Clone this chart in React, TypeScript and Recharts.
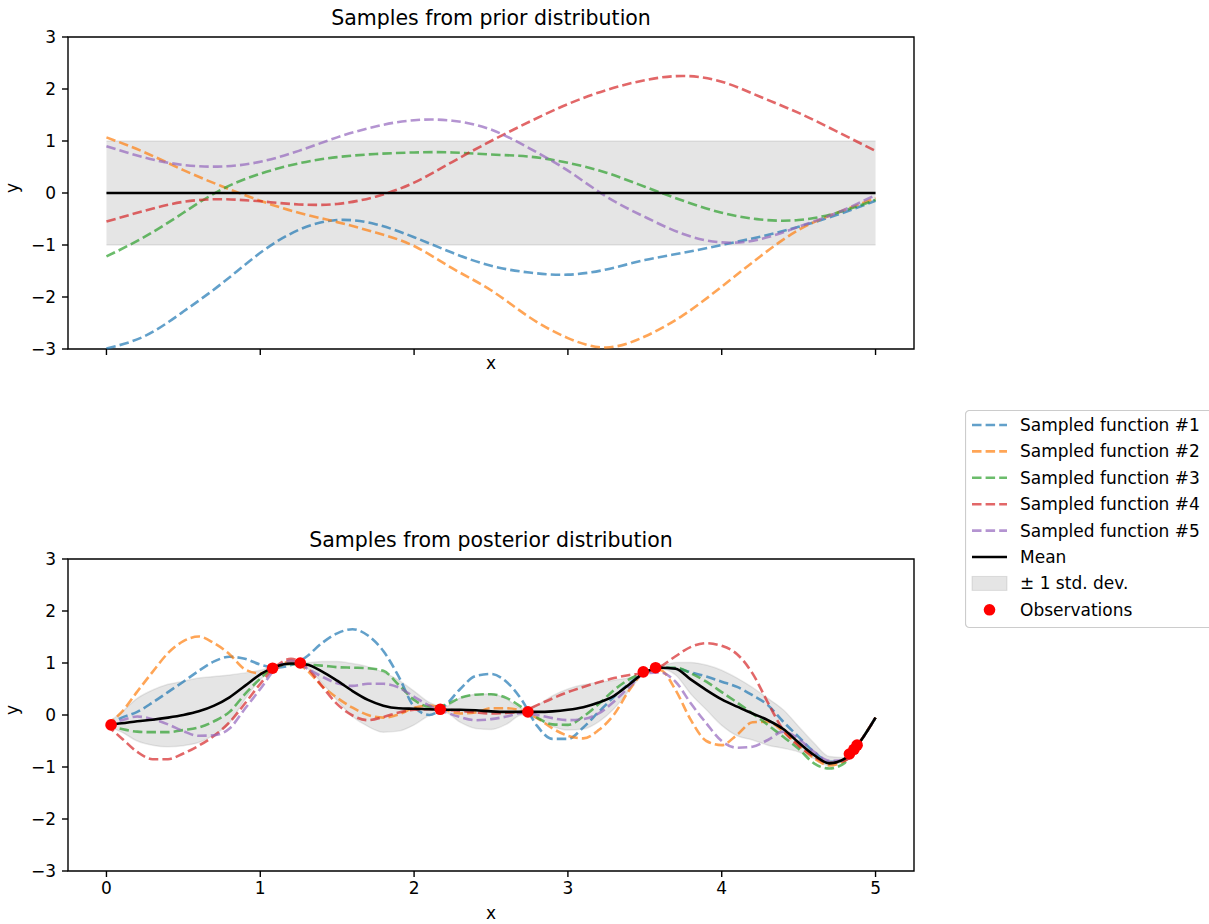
import React from 'react';
import { ComposedChart, Line, Area, Scatter, XAxis, YAxis, ReferenceArea, Label, Legend } from 'recharts';

const FONT = '"DejaVu Sans", Verdana, sans-serif';

const SAMPLE_NAMES = ['Sampled function #1', 'Sampled function #2', 'Sampled function #3', 'Sampled function #4', 'Sampled function #5'];
const SAMPLE_COLORS = ['#1f77b4', '#ff7f0e', '#2ca02c', '#d62728', '#9467bd'];
const SAMPLE_KEYS = ['s1', 's2', 's3', 's4', 's5'];
const X_TICKS = [0, 1, 2, 3, 4, 5];
const Y_TICKS = [-3, -2, -1, 0, 1, 2, 3];

// prior (top panel)
const priorX = [0, 0.25, 0.5, 0.75, 1, 1.25, 1.5, 1.75, 2, 2.25, 2.5, 2.75, 3, 3.25, 3.5, 3.75, 4, 4.25, 4.5, 4.75, 5];
const priorMean = [0, 0, 0, 0, 0, 0, 0, 0, 0, 0, 0, 0, 0, 0, 0, 0, 0, 0, 0, 0, 0];
const priorLower = [-1, -1, -1, -1, -1, -1, -1, -1, -1, -1, -1, -1, -1, -1, -1, -1, -1, -1, -1, -1, -1];
const priorUpper = [1, 1, 1, 1, 1, 1, 1, 1, 1, 1, 1, 1, 1, 1, 1, 1, 1, 1, 1, 1, 1];
const priorS1 = [-2.99, -2.75, -2.28, -1.74, -1.15, -0.71, -0.52, -0.6, -0.85, -1.15, -1.4, -1.53, -1.57, -1.47, -1.29, -1.15, -1.0, -0.84, -0.65, -0.42, -0.15];
const priorS2 = [1.07, 0.78, 0.44, 0.13, -0.15, -0.38, -0.56, -0.76, -1.02, -1.45, -1.87, -2.39, -2.79, -2.97, -2.76, -2.35, -1.8, -1.22, -0.71, -0.38, -0.1];
const priorS3 = [-1.22, -0.84, -0.38, 0.07, 0.37, 0.57, 0.69, 0.75, 0.78, 0.78, 0.74, 0.7, 0.58, 0.39, 0.12, -0.15, -0.38, -0.51, -0.52, -0.38, -0.13];
const priorS4 = [-0.55, -0.34, -0.17, -0.12, -0.16, -0.22, -0.21, -0.07, 0.2, 0.6, 1.0, 1.37, 1.71, 1.98, 2.17, 2.25, 2.14, 1.85, 1.54, 1.18, 0.81];
const priorS5 = [0.9, 0.68, 0.54, 0.51, 0.6, 0.81, 1.07, 1.28, 1.4, 1.39, 1.22, 0.86, 0.43, -0.07, -0.46, -0.79, -0.95, -0.89, -0.65, -0.38, -0.04];

// posterior (bottom panel)
const postX = [0, 0.1, 0.2, 0.3, 0.4, 0.5, 0.6, 0.7, 0.8, 0.9, 1, 1.1, 1.2, 1.3, 1.4, 1.5, 1.6, 1.7, 1.8, 1.9, 2, 2.1, 2.2, 2.3, 2.4, 2.5, 2.6, 2.7, 2.8, 2.9, 3, 3.1, 3.2, 3.3, 3.4, 3.5, 3.6, 3.7, 3.8, 3.9, 4, 4.1, 4.2, 4.3, 4.4, 4.5, 4.6, 4.7, 4.8, 4.9, 5];
const postMean = [-0.19, -0.16, -0.12, -0.09, -0.05, 0.0, 0.07, 0.18, 0.34, 0.56, 0.78, 0.93, 0.99, 0.97, 0.84, 0.66, 0.46, 0.29, 0.18, 0.13, 0.12, 0.11, 0.1, 0.1, 0.09, 0.07, 0.06, 0.06, 0.06, 0.07, 0.1, 0.15, 0.24, 0.37, 0.59, 0.82, 0.91, 0.89, 0.68, 0.48, 0.3, 0.16, 0.03, -0.1, -0.27, -0.53, -0.77, -0.93, -0.84, -0.51, -0.05];
const postUpper = [-0.17, 0.06, 0.32, 0.48, 0.59, 0.65, 0.71, 0.74, 0.77, 0.81, 0.86, 0.95, 1.03, 1.01, 1.03, 1.03, 0.99, 0.93, 0.82, 0.67, 0.46, 0.24, 0.16, 0.33, 0.4, 0.41, 0.31, 0.13, 0.19, 0.37, 0.5, 0.58, 0.63, 0.67, 0.72, 0.83, 0.93, 1.01, 1.01, 0.96, 0.86, 0.71, 0.53, 0.32, 0.1, -0.22, -0.54, -0.8, -0.82, -0.5, -0.05];
const postLower = [-0.21, -0.33, -0.5, -0.58, -0.61, -0.59, -0.53, -0.38, -0.15, 0.3, 0.68, 0.9, 0.96, 0.9, 0.62, 0.28, -0.03, -0.22, -0.33, -0.31, -0.19, -0.01, 0.05, -0.14, -0.26, -0.28, -0.18, 0.0, -0.08, -0.22, -0.29, -0.27, -0.13, 0.12, 0.48, 0.8, 0.89, 0.77, 0.4, 0.1, -0.2, -0.4, -0.48, -0.58, -0.64, -0.71, -0.84, -0.98, -0.86, -0.52, -0.05];
const postS1 = [-0.19, -0.05, 0.06, 0.24, 0.44, 0.64, 0.85, 1.03, 1.12, 1.08, 0.97, 0.91, 0.96, 1.12, 1.38, 1.57, 1.65, 1.53, 1.23, 0.74, 0.16, 0.0, 0.18, 0.5, 0.75, 0.79, 0.64, 0.29, -0.21, -0.46, -0.46, -0.24, 0.06, 0.35, 0.61, 0.82, 0.91, 0.9, 0.82, 0.74, 0.64, 0.54, 0.38, 0.19, -0.13, -0.42, -0.71, -0.9, -0.86, -0.51, -0.05];
const postS2 = [-0.19, 0.06, 0.45, 0.83, 1.19, 1.42, 1.51, 1.38, 1.17, 0.88, 0.8, 0.9, 1.04, 0.87, 0.56, 0.33, 0.14, 0.0, -0.05, 0.01, 0.14, 0.18, 0.1, 0.03, 0.05, 0.13, 0.13, 0.08, -0.06, -0.26, -0.4, -0.45, -0.29, 0.01, 0.48, 0.82, 0.86, 0.48, -0.1, -0.5, -0.58, -0.38, -0.14, -0.13, -0.32, -0.58, -0.83, -0.97, -0.88, -0.51, -0.05];
const postS3 = [-0.19, -0.27, -0.32, -0.33, -0.33, -0.29, -0.24, -0.12, 0.06, 0.4, 0.7, 0.93, 0.98, 0.97, 0.95, 0.92, 0.91, 0.9, 0.85, 0.58, 0.29, 0.16, 0.19, 0.33, 0.39, 0.4, 0.33, 0.15, -0.05, -0.18, -0.19, -0.03, 0.21, 0.48, 0.69, 0.82, 0.91, 0.91, 0.8, 0.64, 0.44, 0.24, 0.03, -0.19, -0.42, -0.65, -0.93, -1.03, -0.92, -0.51, -0.05];
const postS4 = [-0.19, -0.45, -0.71, -0.85, -0.85, -0.74, -0.59, -0.4, -0.14, 0.22, 0.6, 0.93, 1.08, 0.93, 0.56, 0.21, -0.01, -0.1, -0.04, 0.05, 0.1, 0.11, 0.1, 0.08, 0.05, 0.03, 0.04, 0.06, 0.19, 0.32, 0.44, 0.54, 0.63, 0.71, 0.77, 0.81, 0.93, 1.13, 1.31, 1.38, 1.33, 1.17, 0.8, 0.24, -0.29, -0.59, -0.8, -0.92, -0.88, -0.51, -0.05];
const postS5 = [-0.19, -0.1, -0.03, -0.08, -0.18, -0.31, -0.4, -0.39, -0.26, 0.12, 0.5, 0.89, 1.04, 0.9, 0.74, 0.61, 0.56, 0.6, 0.6, 0.53, 0.35, 0.18, 0.06, -0.04, -0.1, -0.08, -0.03, 0.04, 0.0, -0.06, -0.1, -0.08, 0.03, 0.26, 0.54, 0.8, 0.82, 0.64, 0.22, -0.16, -0.5, -0.63, -0.61, -0.48, -0.32, -0.46, -0.71, -0.88, -0.87, -0.51, -0.05];

// observations
const obsX = [0.03, 1.08, 1.26, 2.17, 2.74, 3.49, 3.57, 4.83, 4.86, 4.88];
const obsY = [-0.19, 0.9, 1.0, 0.11, 0.06, 0.83, 0.91, -0.75, -0.66, -0.58];

const priorRows = priorX.map((x, i) => ({
  x,
  mean: priorMean[i],
  band: [priorLower[i], priorUpper[i]],
  s1: priorS1[i], s2: priorS2[i], s3: priorS3[i], s4: priorS4[i], s5: priorS5[i],
}));

const postRows = postX.map((x, i) => ({
  x,
  mean: postMean[i],
  band: [postLower[i], postUpper[i]],
  s1: postS1[i], s2: postS2[i], s3: postS3[i], s4: postS4[i], s5: postS5[i],
}));

const obsRows = obsX.map((x, i) => ({ x, y: obsY[i] }));

const LW = 2.6;
const DASH = '9.5 4.1';
const tickStyle = { fill: '#000', fontSize: 17, fontFamily: FONT };
const minusFmt = (v: number) => (v < 0 ? '\u2212' + Math.abs(v) : String(v));

const ObsDot = (props: any) => {
  const { cx, cy } = props;
  if (cx == null || cy == null) return null;
  return <circle cx={cx} cy={cy} r={5.8} fill="#ff0000" />;
};

const LegendBox = () => {
  const ROW = 26.4;
  const rowY = (i: number) => 15 + i * ROW;
  const textProps = { x: 55, fontSize: 17, fontFamily: FONT, fill: '#000' };
  return (
    <svg width={250} height={222} style={{ display: 'block' }}>
      <rect x={0.5} y={0.5} width={262} height={217} rx={4} fill="#fff" fillOpacity={0.8} stroke="#cccccc" strokeWidth={1.2} />
      {SAMPLE_NAMES.map((name, i) => (
        <g key={name}>
          <line x1={7} x2={42} y1={rowY(i)} y2={rowY(i)} stroke={SAMPLE_COLORS[i]} strokeOpacity={0.7} strokeWidth={LW} strokeDasharray={DASH} />
          <text {...textProps} y={rowY(i) + 6}>{name}</text>
        </g>
      ))}
      <line x1={7} x2={42} y1={rowY(5)} y2={rowY(5)} stroke="#000" strokeWidth={LW} />
      <text {...textProps} y={rowY(5) + 6}>Mean</text>
      <rect x={7} y={rowY(6) - 7} width={35} height={14} fill="#000" fillOpacity={0.1} stroke="#000" strokeOpacity={0.1} />
      <text {...textProps} y={rowY(6) + 6}>± 1 std. dev.</text>
      <circle cx={24.5} cy={rowY(7)} r={5.8} fill="#ff0000" />
      <text {...textProps} y={rowY(7) + 6}>Observations</text>
    </svg>
  );
};

const panelSeries = (withObs: boolean, curve: 'monotone' | 'natural') => [
  ...SAMPLE_KEYS.map((k, i) => (
    <Line
      key={k}
      type={curve}
      dataKey={k}
      stroke={SAMPLE_COLORS[i]}
      strokeOpacity={0.7}
      strokeWidth={LW}
      strokeDasharray={DASH}
      dot={false}
      activeDot={false}
      isAnimationActive={false}
    />
  )),
  <Line key="mean" type={curve} dataKey="mean" stroke="#000" strokeWidth={LW} dot={false} activeDot={false} isAnimationActive={false} />,
  <Area
    key="band"
    type={curve}
    dataKey="band"
    fill="#000"
    fillOpacity={0.1}
    stroke="#000"
    strokeOpacity={0.08}
    strokeWidth={1.5}
    dot={false}
    activeDot={false}
    isAnimationActive={false}
  />,
  ...(withObs
    ? [<Scatter key="obs" data={obsRows} dataKey="y" fill="#ff0000" shape={<ObsDot />} isAnimationActive={false} />]
    : []),
];

const axes = (xLabelOffset: number, xHeight: number, showXLabels: boolean) => [
  <XAxis
    key="x"
    dataKey="x"
    type="number"
    domain={[-0.25, 5.25]}
    ticks={X_TICKS}
    axisLine={false}
    tickSize={6}
    tickMargin={5}
    tickLine={{ stroke: '#000', strokeWidth: 1.4 }}
    tick={tickStyle}
    tickFormatter={showXLabels ? minusFmt : () => ''}
    height={xHeight}
    interval={0}
  >
    <Label value="x" position="insideBottom" offset={xLabelOffset} style={{ fill: '#000', fontSize: 17, fontFamily: FONT }} />
  </XAxis>,
  <YAxis
    key="y"
    type="number"
    domain={[-3, 3]}
    ticks={Y_TICKS}
    axisLine={false}
    tickSize={6}
    tickMargin={6}
    tickLine={{ stroke: '#000', strokeWidth: 1.4 }}
    tick={tickStyle}
    tickFormatter={minusFmt}
    width={68}
    interval={0}
  >
    <Label value="y" angle={-90} position="insideLeft" offset={12} style={{ fill: '#000', fontSize: 17, fontFamily: FONT }} />
  </YAxis>,
];

const frame = (title: string) => (
  <ReferenceArea
    x1={-0.25}
    x2={5.25}
    y1={-3}
    y2={3}
    fill="none"
    stroke="#000"
    strokeWidth={1.4}
    ifOverflow="visible"
    label={{ value: title, position: 'top', offset: 12, fill: '#000', fontSize: 20.5, fontFamily: FONT }}
  />
);

export default function App() {
  return (
    <div style={{ position: 'absolute', left: 0, top: 0, width: 1209, height: 924, overflow: 'hidden', background: '#fff' }}>
      <div style={{ position: 'absolute', left: 0, top: 0 }}>
        <ComposedChart width={930} height={380} data={priorRows} margin={{ top: 37, right: 16, bottom: 1, left: 0 }}>
          {axes(10, 30, false)}
          {panelSeries(false, 'natural')}
          {frame('Samples from prior distribution')}
        </ComposedChart>
      </div>
      <div style={{ position: 'absolute', left: 0, top: 400 }}>
        <ComposedChart width={1209} height={524} data={postRows} margin={{ top: 159, right: 295, bottom: 3, left: 0 }}>
          {axes(2, 50, true)}
          {panelSeries(true, 'monotone')}
          {frame('Samples from posterior distribution')}
          <Legend
            layout="horizontal"
            verticalAlign="middle"
            align="center"
            content={() => <LegendBox />}
            wrapperStyle={{ left: 965, top: 10, width: 250, height: 222 }}
          />
        </ComposedChart>
      </div>
    </div>
  );
}
